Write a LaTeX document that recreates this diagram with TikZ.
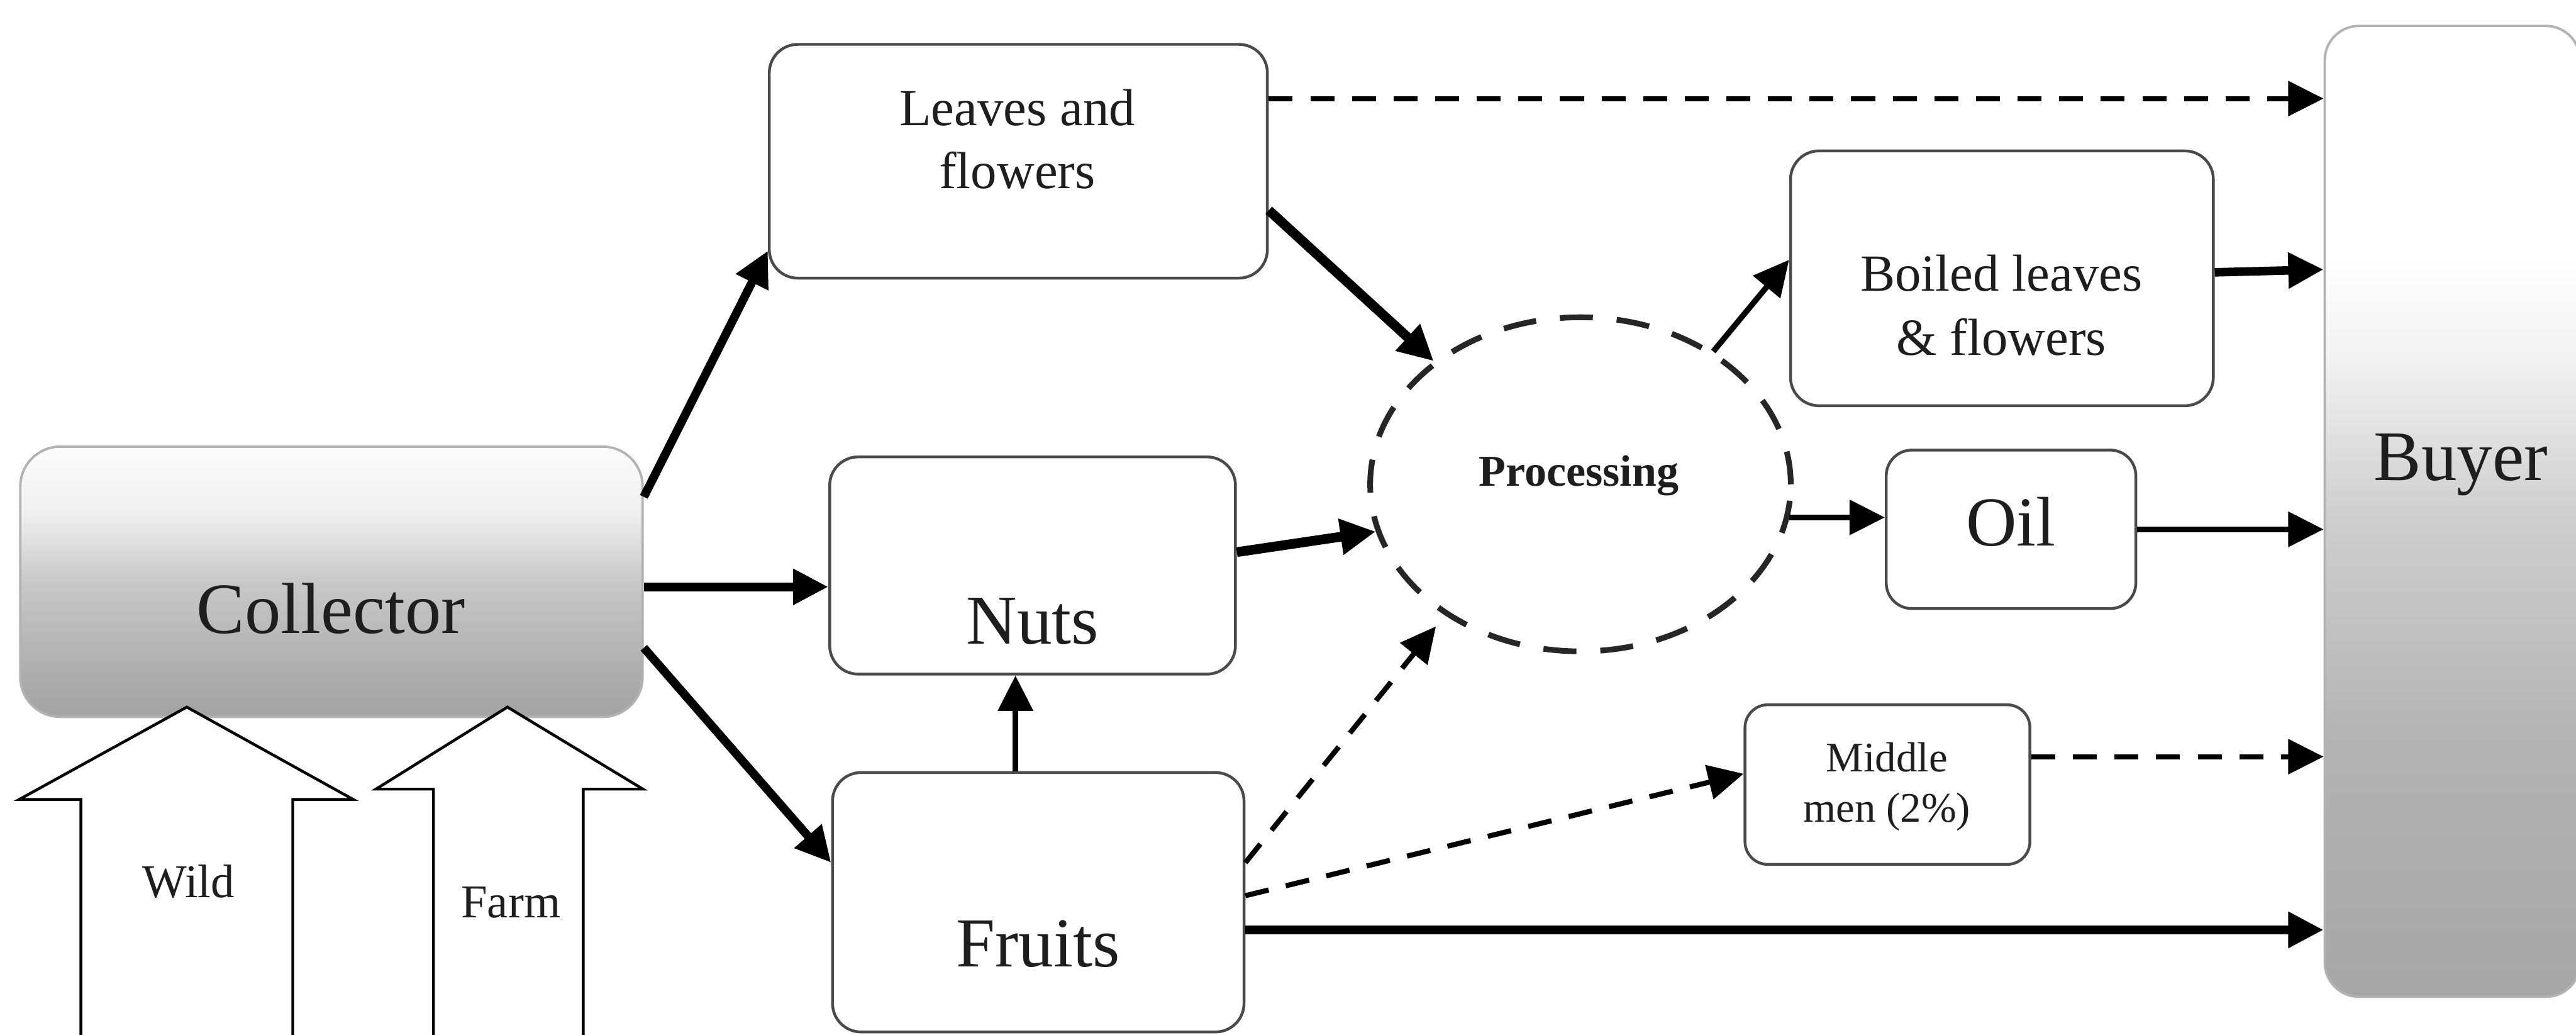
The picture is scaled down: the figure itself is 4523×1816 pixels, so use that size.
\documentclass[tikz,border=0pt]{standalone}
\usepackage{fontspec}
\setmainfont{Liberation Serif}
\usetikzlibrary{arrows.meta,shapes.geometric,calc}

\definecolor{boxline}{HTML}{4A4A4A}
\definecolor{txt}{HTML}{1E1E1E}
% collector shading stops (bottom to top)
\definecolor{cA}{HTML}{A3A3A3}
\definecolor{cB}{HTML}{AAAAAA}
\definecolor{cC}{HTML}{C8C8C8}
\definecolor{cD}{HTML}{F0F0F0}
\definecolor{cE}{HTML}{FBFBFB}
% buyer shading stops (bottom to top)
\definecolor{bA}{HTML}{A6A6A6}
\definecolor{bB}{HTML}{B3B3B3}
\definecolor{bC}{HTML}{CFCFCF}
\definecolor{bD}{HTML}{F2F2F2}
\definecolor{bE}{HTML}{FFFFFF}

\pgfdeclareverticalshading{collshade}{100bp}{color(0bp)=(cA); color(25bp)=(cA); color(31bp)=(cB); color(50bp)=(cC); color(63bp)=(cD); color(75bp)=(cE); color(100bp)=(cE)}
\pgfdeclareverticalshading{buyshade}{100bp}{color(0bp)=(bA); color(25bp)=(bA); color(38bp)=(bB); color(50bp)=(bC); color(58bp)=(bD); color(63bp)=(bE); color(100bp)=(bE)}

\tikzset{
  box/.style={draw=boxline, line width=1.4pt, rounded corners=0.5cm, fill=white, inner sep=0pt},
  shadebox/.style={draw=gray!60, line width=1.2pt, inner sep=0pt, shade, shading=#1},
  lbl/.style={text=txt, inner sep=0pt, anchor=base},
  big/.style={font=\fontsize{35}{40}\selectfont},
  mid/.style={font=\fontsize{26}{30}\selectfont},
  small/.style={font=\fontsize{21}{25}\selectfont},
  tip/.style={-{Triangle[length=0.62cm,width=0.6cm]}},
  thickflow/.style={tip, line width=0.15cm},
  heavyflow/.style={tip, line width=0.17cm},
  flow/.style={tip, line width=0.1cm},
  dflow/.style={tip, line width=0.09cm, dash pattern=on 0.42cm off 0.31cm},
  blockarrow/.style={draw=black, fill=white, line width=1.4pt, line join=miter},
}

\begin{document}
\begin{tikzpicture}[x=0.01cm, y=-0.01cm]
\useasboundingbox (0,0) rectangle (4523,1816);
\clip (0,0) rectangle (4523,1816);

% ---------- main boxes ----------
\node[shadebox=collshade, rounded corners=0.7cm, minimum width=10.92cm, minimum height=4.74cm] (coll) at (582,1021) {};
\node[shadebox=buyshade, rounded corners=0.6cm, minimum width=4.48cm, minimum height=17.03cm] (buyer) at (4306,897.5) {};

\node[box, minimum width=8.74cm, minimum height=4.10cm] (leaves) at (1788,283) {};
\node[box, minimum width=7.12cm, minimum height=3.81cm] (nuts) at (1813,992.5) {};
\node[box, minimum width=7.22cm, minimum height=4.55cm] (fruits) at (1823,1583.5) {};
\node[box, minimum width=7.42cm, minimum height=4.47cm] (boiled) at (3515,488.5) {};
\node[box, minimum width=4.38cm, minimum height=2.78cm, rounded corners=0.45cm] (oil) at (3531,929) {};
\node[box, minimum width=5.00cm, minimum height=2.80cm, rounded corners=0.4cm] (middle) at (3314,1377) {};

\node[draw=black!85, ellipse, line width=0.1cm, dash pattern=on 0.58cm off 0.42cm,
      minimum width=7.38cm, minimum height=5.86cm, inner sep=0pt] (proc) at (2775,850) {};

% ---------- source arrows ----------
\draw[blockarrow] (142,1840) -- (142,1403) -- (34,1403) -- (328,1241) -- (620,1403) -- (514,1403) -- (514,1840);
\draw[blockarrow] (761,1840) -- (761,1385) -- (660,1385) -- (891,1241) -- (1129,1385) -- (1024,1385) -- (1024,1840);

% ---------- labels ----------
\node[lbl, font=\fontsize{36}{40}\selectfont] (tcoll) at (581,1111) {Collector};
\node[lbl, font=\fontsize{35.5}{40}\selectfont] (tbuyer) at (4321,843) {Buyer};
\node[lbl, font=\fontsize{23.5}{28}\selectfont] (twild) at (331,1575) {Wild};
\node[lbl, font=\fontsize{23.5}{28}\selectfont] (tfarm) at (897,1610) {Farm};
\node[lbl, mid] (tleaves1) at (1786,220) {Leaves and};
\node[lbl, mid] (tleaves2) at (1786,331) {flowers};
\node[lbl, big] (tnuts) at (1813,1130) {Nuts};
\node[lbl, big] (tfruits) at (1823,1697) {Fruits};
\node[lbl, font=\bfseries\fontsize{22}{26}\selectfont] (tproc) at (2772,853) {Processing};
\node[lbl, mid] (tboiled1) at (3514,511) {Boiled leaves};
\node[lbl, mid] (tboiled2) at (3514,623) {\& flowers};
\node[lbl, big] (toil) at (3531,958) {Oil};
\node[lbl, small] (tmid1) at (3313,1354) {Middle};
\node[lbl, small] (tmid2) at (3313,1443) {men (2\%)};

% ---------- connector levels ----------
\coordinate (r1) at (0,173);
\coordinate (r2) at (0,369);
\coordinate (r3s) at (0,872);
\coordinate (r3e) at (0,440);
\coordinate (r4) at (0,1030);
\coordinate (r5s) at (0,1137);
\coordinate (r5e) at (0,1514);
\coordinate (r6) at (0,969);
\coordinate (fx) at (1783,0);
\coordinate (r8) at (0,1514);
\coordinate (r9s) at (0,1572);
\coordinate (r9e) at (0,1358);
\coordinate (r10) at (0,1632);
\coordinate (r11) at (0,456);
\coordinate (r13s) at (0,478);
\coordinate (r13e) at (0,473);
\coordinate (r14) at (0,929);
\coordinate (r15) at (0,1328);

% ---------- connectors ----------
\draw[dflow] (leaves.east |- r1) -- (buyer.west |- r1);
\draw[heavyflow] (leaves.east |- r2) -- (proc.140);
\draw[thickflow] (coll.east |- r3s) -- (leaves.west |- r3e);
\draw[thickflow] (coll.east |- r4) -- (nuts.west |- r4);
\draw[thickflow] (coll.east |- r5s) -- (fruits.west |- r5e);
\draw[heavyflow] (nuts.east |- r6) -- (proc.193);
\draw[flow] (fruits.north -| fx) -- (nuts.south -| fx);
\draw[dflow, shorten >=0.25cm] (fruits.east |- r8) -- (proc.224);
\draw[dflow] (fruits.east |- r9s) -- (middle.west |- r9e);
\draw[thickflow] (fruits.east |- r10) -- (buyer.west |- r10);
\draw[flow] (proc.45) -- (boiled.west |- r11);
\draw[flow] (proc.351.7) -- (oil.west |- proc.351.7);
\draw[thickflow] (boiled.east |- r13s) -- (buyer.west |- r13e);
\draw[flow] (oil.east |- r14) -- (buyer.west |- r14);
\draw[dflow] (middle.east |- r15) -- (buyer.west |- r15);
\end{tikzpicture}
\end{document}
